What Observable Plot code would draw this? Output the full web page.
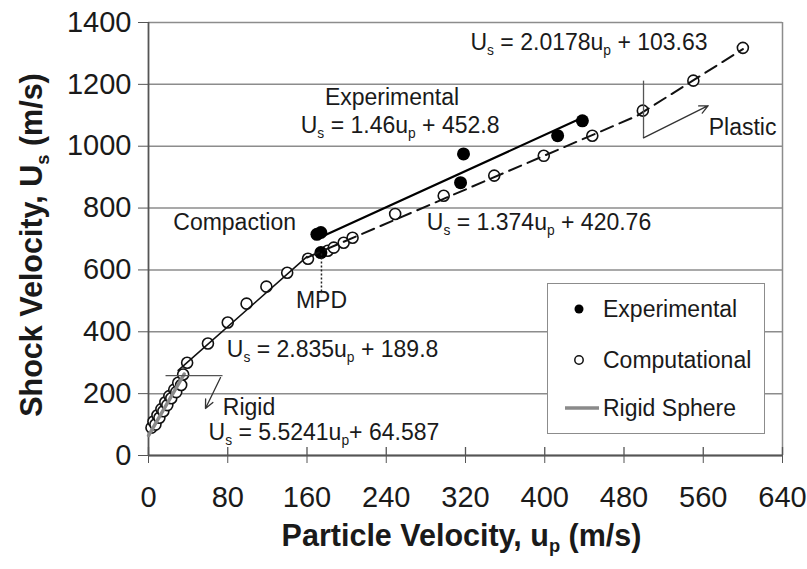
<!DOCTYPE html>
<html><head><meta charset="utf-8">
<script src="https://cdn.jsdelivr.net/npm/d3@7"></script>
<script src="https://cdn.jsdelivr.net/npm/@observablehq/plot@0.6"></script>
<style>
body{margin:0;background:#fff;font-family:"Liberation Sans",Arial,sans-serif;}
#wrap{position:relative;width:807px;height:569px;overflow:hidden;}
#legend{position:absolute;left:547px;top:283px;width:218px;height:151px;border:1.5px solid #8c8c8c;background:#fff;box-sizing:border-box;}
.item{position:absolute;left:0;height:30px;display:flex;align-items:center;font-size:23px;color:#1a1a1a;white-space:nowrap;}
.item svg{width:55px;height:30px;flex:none;}
</style></head><body><div id="wrap"></div>
<script>
// ---- data ----
const xTicks = [0, 80, 160, 240, 320, 400, 480, 560, 640];
const yTicks = [0, 200, 400, 600, 800, 1000, 1200, 1400];

const expU  = [170, 174, 174, 315, 318, 413, 438];
const expUs = [715, 721, 656, 882, 975, 1034, 1082];

const compU  = [3, 5, 7, 9, 11, 13, 15, 17, 19, 21, 23, 26, 28, 30, 33, 35, 39, 60, 80, 99, 119, 140, 161, 181, 187, 197, 206, 249, 298, 349, 399, 448, 499, 550, 600];
const compUs = [90, 110, 100, 130, 122, 150, 143, 172, 163, 192, 185, 213, 205, 235, 228, 262, 300, 362, 430, 491, 546, 591, 636, 662, 672, 688, 704, 781, 840, 905, 969, 1034, 1115, 1212, 1318];

const rigidU = [0, 36], rigidUs = [64.6, 263.5];
const compSolidU = [30, 160], compSolidUs = [275, 643];
const compDashU = [160, 493, 600], compDashUs = [640, 1098, 1314];
const expLineU = [173, 440], expLineUs = [705, 1095];

const leadU1 = [17.2, 499.7], leadUs1 = [258.5, 1212], leadU2 = [74.7, 499.7], leadUs2 = [258.5, 1027];
const arrU1 = [72.7, 499.7], arrUs1 = [252, 1027], arrU2 = [57.5, 565], arrUs2 = [152, 1131];
const mpdU = [174.6], mpdUs1 = [653], mpdUs2 = [523];

const startLabels = ["U_s = 2.0178u_p + 103.63", "Compaction", "U_s = 1.374u_p + 420.76", "U_s = 2.835u_p + 189.8", "Rigid", "U_s = 5.5241u_p+ 64.587", "Plastic"];
const startU  = [325, 25, 281, 79, 75, 60.6, 565.5];
const startUs = [1334, 754, 753, 342, 155, 74, 1060];
const midLabels = ["Experimental", "U_s = 1.46u_p + 452.8", "MPD"];
const midU  = [245.8, 254, 174.6];
const midUs = [1157, 1066, 501];

const xTitle = "Particle Velocity, u_p (m/s)";
const yTitle = "Shock Velocity, U_s (m/s)";
const legendLabels = ["Experimental", "Computational", "Rigid Sphere"];

// ---- tables ----
const exp = expU.map((u, i) => ({u, v: expUs[i]}));
const comp = compU.map((u, i) => ({u, v: compUs[i]}));
const rigid = rigidU.map((u, i) => ({u, v: rigidUs[i]}));
const compSolid = compSolidU.map((u, i) => ({u, v: compSolidUs[i]}));
const compDash = compDashU.map((u, i) => ({u, v: compDashUs[i]}));
const expLine = expLineU.map((u, i) => ({u, v: expLineUs[i]}));
const leads = leadU1.map((u, i) => ({x1: u, y1: leadUs1[i], x2: leadU2[i], y2: leadUs2[i]}));
const arrows = arrU1.map((u, i) => ({x1: u, y1: arrUs1[i], x2: arrU2[i], y2: arrUs2[i]}));
const mpd = mpdU.map((u, i) => ({x1: u, y1: mpdUs1[i], x2: u, y2: mpdUs2[i]}));
const startT = startLabels.map((t, i) => ({t, u: startU[i], v: startUs[i]}));
const midT = midLabels.map((t, i) => ({t, u: midU[i], v: midUs[i]}));

const ink = "#1a1a1a";
const chart = Plot.plot({
  width: 807, height: 569,
  marginLeft: 148, marginRight: 25, marginTop: 22, marginBottom: 114,
  x: {domain: [0, 640]},
  y: {domain: [0, 1400]},
  style: {fontFamily: '"Liberation Sans", Arial, sans-serif', color: ink, background: "#fff", overflow: "visible"},
  marks: [
    Plot.gridY(yTicks, {stroke: "#8c8c8c", strokeOpacity: 1, strokeWidth: 1.5}),
    Plot.ruleX([640], {stroke: "#8c8c8c", strokeWidth: 1.5}),
    Plot.ruleX([0], {stroke: "#555", strokeWidth: 1.8}),
    Plot.ruleY([0], {stroke: "#555", strokeWidth: 1.8}),
    Plot.axisX(xTicks, {tickSize: 8, tickPadding: 23, fontSize: 29, label: null, stroke: "#555", tickFormat: d => String(d)}),
    Plot.tickX(xTicks, {x: d => d, insetTop: 425, stroke: "#555", strokeWidth: 1.3}),
    Plot.axisY(yTicks, {tickSize: 10, tickPadding: 7, fontSize: 29, label: null, stroke: "#555", tickFormat: d => String(d)}),
    Plot.dot(comp, {x: "u", y: "v", r: 5.5, fill: "white", stroke: "#111", strokeWidth: 1.6}),
    Plot.dot(exp, {x: "u", y: "v", r: 6.5, fill: "#000"}),
    Plot.line(rigid, {x: "u", y: "v", stroke: "#8a8a8a", strokeWidth: 3.5}),
    Plot.line(compSolid, {x: "u", y: "v", stroke: "#111", strokeWidth: 1.6}),
    Plot.line(compDash, {x: "u", y: "v", stroke: "#111", strokeWidth: 2, strokeDasharray: "13,7"}),
    Plot.line(expLine, {x: "u", y: "v", stroke: "#000", strokeWidth: 2.2}),
    Plot.link(leads, {x1: "x1", y1: "y1", x2: "x2", y2: "y2", stroke: "#555", strokeWidth: 1.3}),
    Plot.arrow(arrows, {x1: "x1", y1: "y1", x2: "x2", y2: "y2", stroke: "#333", strokeWidth: 1.3, headLength: 11, headAngle: 50}),
    Plot.link(mpd, {x1: "x1", y1: "y1", x2: "x2", y2: "y2", stroke: "#222", strokeWidth: 1.5, strokeDasharray: "2,2"}),
    Plot.text(startT, {x: "u", y: "v", text: "t", textAnchor: "start", fontSize: 23, fill: ink}),
    Plot.text(midT, {x: "u", y: "v", text: "t", textAnchor: "middle", fontSize: 23, fill: ink}),
    Plot.text([xTitle], {text: d => d, frameAnchor: "bottom", textAnchor: "middle", dx: -4, dy: 90, fontSize: 30.5, fontWeight: "bold", fill: ink}),
    Plot.text([yTitle], {text: d => d, frameAnchor: "left", textAnchor: "middle", dx: -116, dy: 6, rotate: -90, fontSize: 30.5, fontWeight: "bold", fill: ink})
  ]
});

const wrap = document.getElementById("wrap");
wrap.appendChild(chart);

// subscripts: "_x" -> subscripted x
chart.querySelectorAll("text").forEach(t => {
  if (t.children.length) return;
  const s = t.textContent;
  if (!s.includes("_")) return;
  const fs = parseFloat(getComputedStyle(t).fontSize) || 23;
  const parts = s.split(/_(\w)/);
  t.textContent = "";
  const ns = "http://www.w3.org/2000/svg";
  let shifted = false;
  parts.forEach((p, i) => {
    const ts = document.createElementNS(ns, "tspan");
    ts.textContent = p;
    if (i % 2 === 1) { ts.setAttribute("font-size", fs * 0.6); ts.setAttribute("dy", fs * 0.22); shifted = true; }
    else if (shifted) { ts.setAttribute("dy", -fs * 0.22); shifted = false; }
    t.appendChild(ts);
  });
});

// legend
const legend = document.createElement("div");
legend.id = "legend";
const tops = [10, 61, 109];
const symbols = [
  '<circle cx="31" cy="15" r="4.5" fill="#000"/>',
  '<circle cx="31" cy="15" r="4.2" fill="#fff" stroke="#111" stroke-width="1.5"/>',
  '<line x1="17" x2="51" y1="15" y2="15" stroke="#8a8a8a" stroke-width="3.5"/>'
];
legendLabels.forEach((lab, i) => {
  const it = document.createElement("div");
  it.className = "item";
  it.style.top = tops[i] + "px";
  it.innerHTML = '<svg viewBox="0 0 55 30">' + symbols[i] + '</svg>';
  const sp = document.createElement("span");
  sp.textContent = lab;
  it.appendChild(sp);
  legend.appendChild(it);
});
wrap.appendChild(legend);
</script></body></html>
